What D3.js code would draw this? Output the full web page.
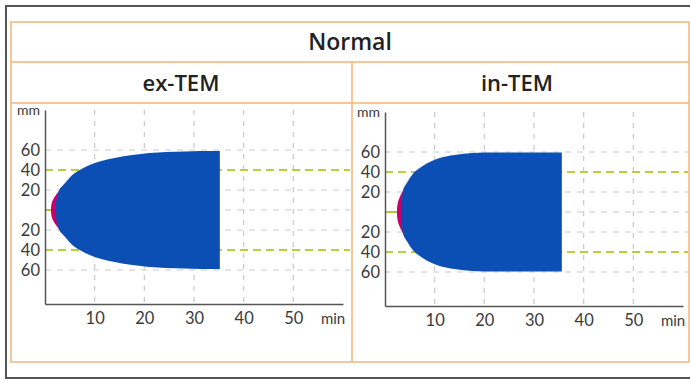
<!DOCTYPE html>
<html>
<head>
<meta charset="utf-8">
<script src="https://cdn.jsdelivr.net/npm/d3@7"></script>
<style>
body{margin:0;background:#fff;}
svg{display:block;}
</style>
</head>
<body>
<svg id="chart" width="690" height="381"></svg>
<script>
var title = "Normal";
var panelNames = ["ex-TEM", "in-TEM"];
var xTicks = [10, 20, 30, 40, 50];
var yTicks = [-60, -40, -20, 20, 40, 60];
var greyLines = [-60, -20, 0, 20, 60];
var greenLines = [-40, 40];

// ex-TEM: amplitude (mm) against time (min)
var exCT = 1.2;
var exTime = [1.2, 1.25, 1.4, 1.7, 2.2, 2.8, 3.5, 4.4, 5.5, 7, 9, 11, 14, 17.6, 21, 24.4, 28, 31.5, 35.2];
var exAmp  = [0, 4, 7.5, 11, 15, 19, 24, 29, 35, 40, 45, 48.5, 52, 55, 57, 58, 58.5, 59, 59];
var exBlueTime = [2.15, 2.2, 2.35, 2.55, 2.8];
var exBlueAmp  = [0, 6, 11, 15, 19];

// in-TEM
var inCT = 2.4;
var inTime = [2.4, 2.45, 2.6, 2.9, 3.2, 3.6, 4.4, 5.6, 7, 9, 11, 14, 17.6, 20, 24, 28, 32, 35.6];
var inAmp  = [0, 5, 9.5, 14, 17.5, 21, 29, 38, 44, 50, 54, 57, 59, 59.5, 59.5, 59.5, 59.5, 59.5];
var inBlueTime = [3.2, 3.25, 3.35, 3.5, 3.6];
var inBlueAmp  = [0, 7, 12, 17, 21];

var svg = d3.select("#chart");

// frame
svg.append("rect")
    .attr("x", 6).attr("y", 6)
    .attr("width", 700).attr("height", 372)
    .attr("fill", "#fff")
    .attr("stroke", "#555")
    .attr("stroke-width", 2);
svg.append("rect")
    .attr("x", 11).attr("y", 22)
    .attr("width", 678).attr("height", 340)
    .attr("fill", "none")
    .attr("stroke", "#f2b47a")
    .attr("stroke-width", 1.5);
svg.append("line")
    .attr("x1", 11).attr("x2", 689).attr("y1", 62).attr("y2", 62)
    .attr("stroke", "#f2b47a").attr("stroke-width", 1.5);
svg.append("line")
    .attr("x1", 11).attr("x2", 689).attr("y1", 103).attr("y2", 103)
    .attr("stroke", "#f2b47a").attr("stroke-width", 1.5);
svg.append("line")
    .attr("x1", 352).attr("x2", 352).attr("y1", 62).attr("y2", 362)
    .attr("stroke", "#f2b47a").attr("stroke-width", 1.5);

svg.append("text")
    .attr("x", 350).attr("y", 50)
    .attr("text-anchor", "middle")
    .style("font-family", "Open Sans")
    .style("font-weight", 600)
    .style("font-size", "23px")
    .attr("fill", "#222")
    .text(title);

svg.selectAll(".pname")
    .data(panelNames)
    .enter().append("text")
    .attr("x", function(d, i) { return i == 0 ? 181 : 517; })
    .attr("y", 91)
    .attr("text-anchor", "middle")
    .style("font-family", "Open Sans")
    .style("font-weight", 600)
    .style("font-size", "22px")
    .attr("fill", "#222")
    .text(function(d) { return d; });

function toPoints(t, a) {
    return t.map(function(d, i) { return {t: d, a: a[i]}; });
}

function drawPanel(left, top, ct, time, amp, blueTime, blueAmp) {
    var g = svg.append("g").attr("transform", "translate(" + left + "," + top + ")");

    var x = d3.scaleLinear().domain([0, 60]).range([0, 298]);
    var y = d3.scaleLinear().domain([-94, 100]).range([194, 0]);
    var w = left == 45 ? 305 : 303;

    // grid
    g.selectAll(".vgrid")
        .data(xTicks)
        .enter().append("line")
        .attr("x1", function(d) { return x(d); })
        .attr("x2", function(d) { return x(d); })
        .attr("y1", 0).attr("y2", 194)
        .attr("stroke", "#c9c9c9")
        .attr("stroke-width", 1.2)
        .attr("stroke-dasharray", "5,6");
    g.selectAll(".hgrid")
        .data(greyLines)
        .enter().append("line")
        .attr("x1", 0).attr("x2", w)
        .attr("y1", function(d) { return y(d); })
        .attr("y2", function(d) { return y(d); })
        .attr("stroke", "#c9c9c9")
        .attr("stroke-width", 1.2)
        .attr("stroke-dasharray", "6,6");
    g.selectAll(".ggrid")
        .data(greenLines)
        .enter().append("line")
        .attr("x1", 0).attr("x2", w)
        .attr("y1", function(d) { return y(d); })
        .attr("y2", function(d) { return y(d); })
        .attr("stroke", "#b9cf3c")
        .attr("stroke-width", 1.8)
        .attr("stroke-dasharray", "8,5");

    var area = d3.area()
        .x(function(d) { return x(d.t); })
        .y0(function(d) { return y(-d.a); })
        .y1(function(d) { return y(d.a); })
        .curve(d3.curveMonotoneX);

    var outer = toPoints(time, amp);
    var capEnd = blueTime[blueTime.length - 1];
    var blue = toPoints(blueTime, blueAmp).concat(outer.filter(function(d) { return d.t > capEnd; }));

    // lag phase before clotting
    g.append("line")
        .attr("x1", x(0)).attr("x2", x(ct))
        .attr("y1", y(0)).attr("y2", y(0))
        .attr("stroke", "#b3c23a")
        .attr("stroke-width", 2);

    g.append("path")
        .datum(outer.filter(function(d) { return d.t <= capEnd + 1.5; }))
        .attr("d", area)
        .attr("fill", "#c8006e");
    g.append("path")
        .datum(blue)
        .attr("d", area)
        .attr("fill", "#0c4fb4");

    // axes
    var xAxis = g.append("g")
        .attr("transform", "translate(0,194)")
        .call(d3.axisBottom(x).tickValues(xTicks).tickSize(0).tickPadding(8).tickSizeOuter(0));
    var yAxis = g.append("g")
        .call(d3.axisLeft(y).tickValues(yTicks).tickSize(0).tickPadding(5).tickSizeOuter(0)
            .tickFormat(function(d) { return Math.abs(d); }));
    [xAxis, yAxis].forEach(function(a) {
        a.select(".domain").attr("stroke", "#555").attr("stroke-width", 1.5);
        a.selectAll("text")
            .style("font-family", "Lato")
            .style("font-size", "16.5px")
            .attr("fill", "#3a3a3a");
    });

    g.append("text")
        .attr("x", -5).attr("y", 5)
        .attr("text-anchor", "end")
        .style("font-family", "Lato")
        .style("font-size", "14px")
        .attr("fill", "#3a3a3a")
        .text("mm");
    g.append("text")
        .attr("x", x(58)).attr("y", 214)
        .attr("text-anchor", "middle")
        .style("font-family", "Lato")
        .style("font-size", "15px")
        .attr("fill", "#3a3a3a")
        .text("min");
}

drawPanel(45, 110, exCT, exTime, exAmp, exBlueTime, exBlueAmp);
drawPanel(385, 112, inCT, inTime, inAmp, inBlueTime, inBlueAmp);
</script>
</body>
</html>
